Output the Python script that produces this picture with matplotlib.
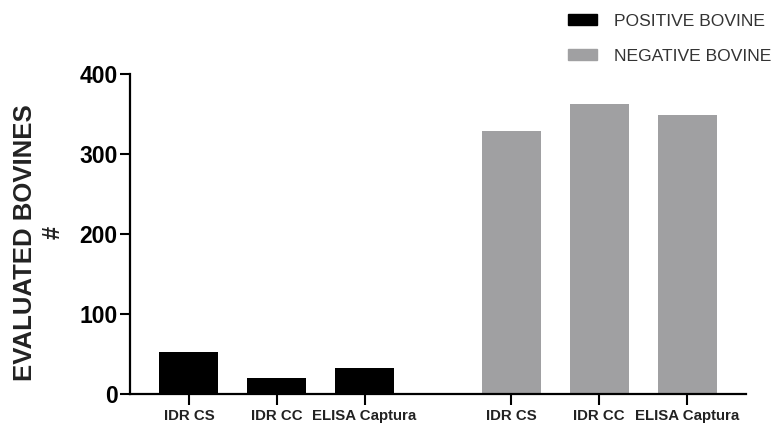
import matplotlib
matplotlib.use("Agg")
import matplotlib.pyplot as plt
from matplotlib.patches import Patch

categories = ["IDR CS", "IDR CC", "ELISA Captura"]
positive = [52, 20, 32]
negative = [329, 362, 349]
series_labels = ["POSITIVE BOVINE", "NEGATIVE BOVINE"]
colors = ["#000000", "#a0a0a2"]

plt.rcParams['font.family'] = ['Liberation Sans', 'DejaVu Sans']

fig = plt.figure(figsize=(7.73, 4.28), dpi=100)
ax = fig.add_axes([130/773, 34/428, 616/773, 320/428])

pos_x = [0, 1, 2]
neg_x = [3.67, 4.67, 5.67]
w = 0.67
ax.bar(pos_x, positive, width=w, color=colors[0])
ax.bar(neg_x, negative, width=w, color=colors[1])

ax.set_xlim(-0.67, 6.34)
ax.set_ylim(0, 400)
ax.set_yticks([0, 100, 200, 300, 400])
ax.set_xticks(pos_x + neg_x)
ax.set_xticklabels(categories + categories, fontweight='bold', fontsize=10.8, color='#222222')
for lab in ax.get_yticklabels():
    lab.set_fontweight('bold')
    lab.set_fontsize(16.5)
ax.tick_params(axis='y', length=7, width=1.5, pad=2)
ax.tick_params(axis='x', length=8, width=1.5, pad=3)
for s in ['top', 'right']:
    ax.spines[s].set_visible(False)
for s in ['left', 'bottom']:
    ax.spines[s].set_linewidth(1.6)

fig.text(25/773, 1 - 243/428, "EVALUATED BOVINES", rotation=90, ha='center', va='center',
         fontweight='bold', fontsize=18.5, color='#222222')
fig.text(53/773, 1 - 232/428, "#", rotation=90, ha='center', va='center',
         fontweight='bold', fontsize=17, color='#222222')

handles = [Patch(color=colors[0]), Patch(color=colors[1])]
fig.legend(handles, series_labels, loc='upper left', bbox_to_anchor=(552/773, 1 + 2/428),
           frameon=False, fontsize=12.6, labelspacing=1.15, handlelength=1.65,
           handleheight=0.6, handletextpad=1.0, labelcolor='#333333')

fig.savefig("out.png", dpi=100, facecolor='white')
